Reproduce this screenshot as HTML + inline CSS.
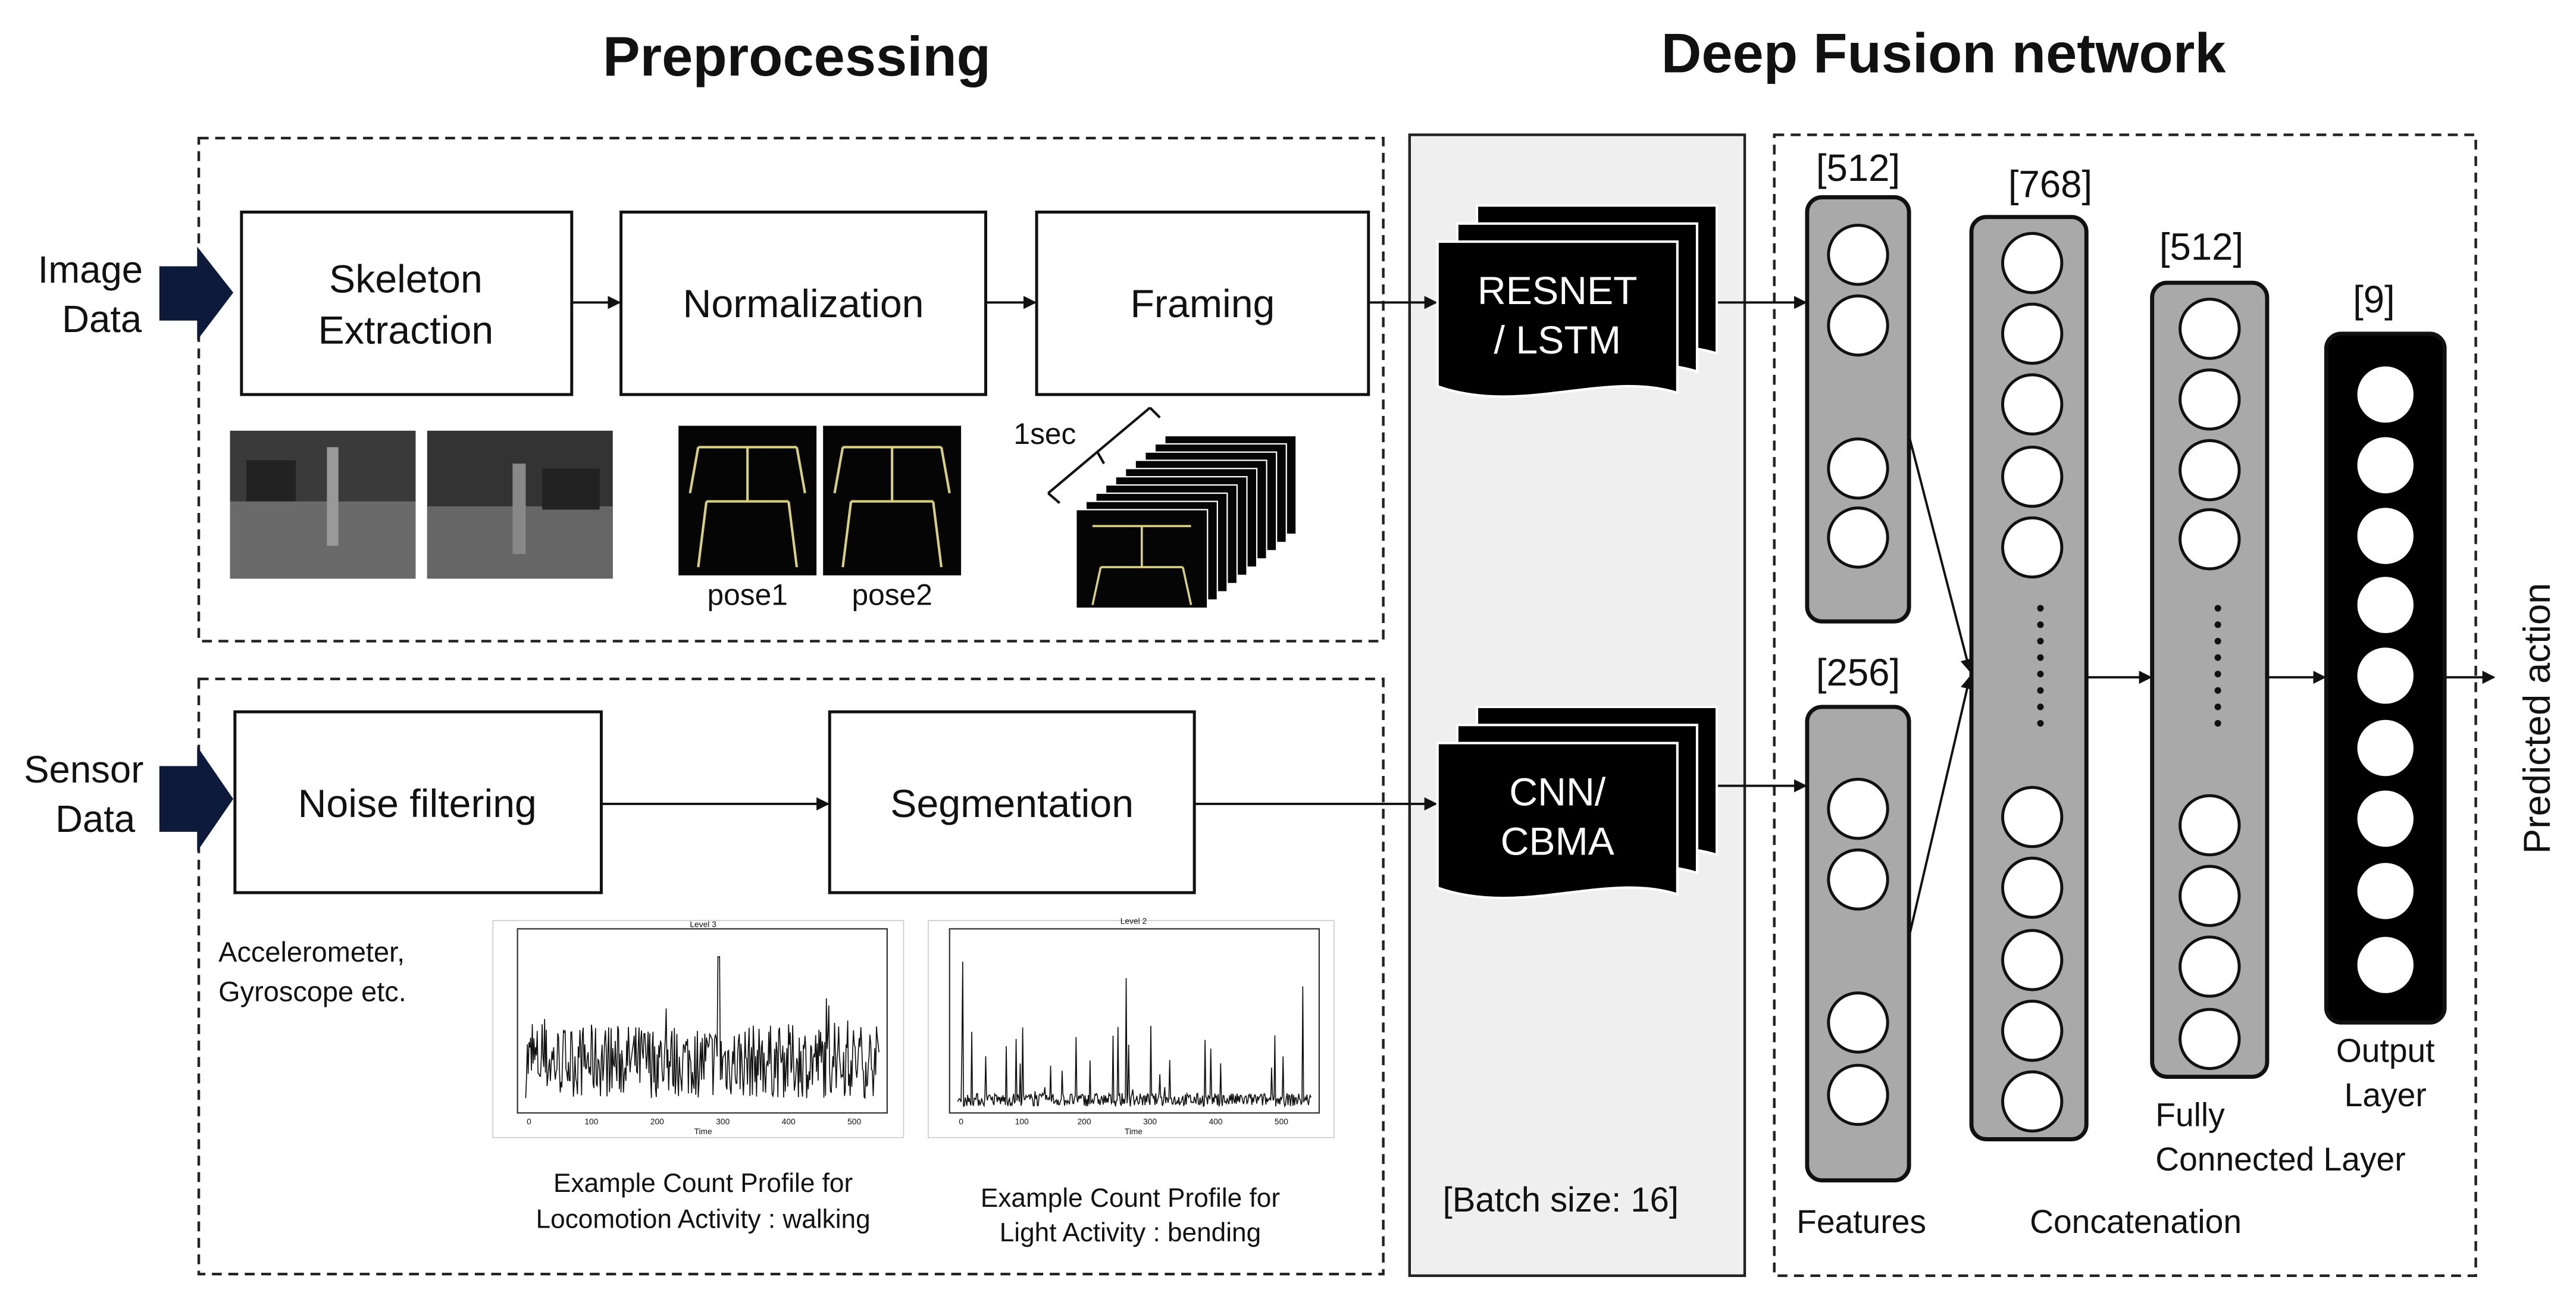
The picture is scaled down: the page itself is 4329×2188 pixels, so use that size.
<!DOCTYPE html>
<html><head><meta charset="utf-8">
<style>
html,body{margin:0;padding:0;background:#fff;}
svg{display:block;}
text{font-family:"Liberation Sans",sans-serif;fill:#111;}
</style></head>
<body>
<svg id="s" width="4329" height="2188" viewBox="0 0 1568 792" preserveAspectRatio="none" xmlns="http://www.w3.org/2000/svg">
<defs>
<marker id="ar" markerWidth="8" markerHeight="8" refX="7" refY="4" orient="auto" markerUnits="userSpaceOnUse">
<path d="M0,0 L8,4 L0,8 z" fill="#111"/></marker>
</defs>
<text x="485" y="46" font-size="34" font-weight="bold" text-anchor="middle">Preprocessing</text>
<text x="1183" y="44" font-size="34" font-weight="bold" text-anchor="middle">Deep Fusion network</text>

<g fill="none" stroke="#222" stroke-width="1.6" stroke-dasharray="6,4">
<rect x="121" y="84" width="721" height="306"/>
<rect x="121" y="413" width="721" height="362"/>
<rect x="1080" y="82" width="427" height="694"/>
</g>
<rect x="858" y="82" width="204" height="694" fill="#efefef" stroke="#222" stroke-width="1.6"/>

<path d="M97,162 L120,162 L120,150 L142,178 L120,207 L120,195 L97,195 z" fill="#0e1a3c"/>
<path d="M97,466 L120,466 L120,454 L142,486 L120,518 L120,506 L97,506 z" fill="#0e1a3c"/>
<text x="55" y="172" font-size="23" text-anchor="middle">Image</text>
<text x="62" y="202" font-size="23" text-anchor="middle">Data</text>
<text x="51" y="476" font-size="23" text-anchor="middle">Sensor</text>
<text x="58" y="506" font-size="23" text-anchor="middle">Data</text>

<g fill="#fff" stroke="#111" stroke-width="1.8">
<rect x="147" y="129" width="201" height="111"/>
<rect x="378" y="129" width="222" height="111"/>
<rect x="631" y="129" width="202" height="111"/>
<rect x="143" y="433" width="223" height="110"/>
<rect x="505" y="433" width="222" height="110"/>
</g>
<text x="247" y="178" font-size="24" text-anchor="middle">Skeleton</text>
<text x="247" y="209" font-size="24" text-anchor="middle">Extraction</text>
<text x="489" y="193" font-size="24" text-anchor="middle">Normalization</text>
<text x="732" y="193" font-size="24" text-anchor="middle">Framing</text>
<text x="254" y="497" font-size="24" text-anchor="middle">Noise filtering</text>
<text x="616" y="497" font-size="24" text-anchor="middle">Segmentation</text>

<g stroke="#111" stroke-width="1.4" fill="none" marker-end="url(#ar)">
<line x1="348" y1="184" x2="377" y2="184"/>
<line x1="600" y1="184" x2="630" y2="184"/>
<line x1="833" y1="184" x2="874" y2="184"/>
<line x1="366" y1="489" x2="504" y2="489"/>
<line x1="727" y1="489" x2="874" y2="489"/>
<line x1="1045" y1="184" x2="1099" y2="184"/>
<line x1="1045" y1="478" x2="1099" y2="478"/>
<line x1="1162" y1="265" x2="1199" y2="408"/>
<line x1="1162" y1="570" x2="1199" y2="412"/>
<line x1="1270" y1="412" x2="1309" y2="412"/>
<line x1="1380" y1="412" x2="1415" y2="412"/>
<line x1="1488" y1="412" x2="1518" y2="412"/>
</g>

<rect x="140" y="262" width="113" height="90" fill="#3a3a3a"/>
<rect x="140" y="305" width="113" height="47" fill="#6a6a6a"/>
<rect x="260" y="262" width="113" height="90" fill="#333"/>
<rect x="260" y="308" width="113" height="44" fill="#666"/>
<rect x="150" y="280" width="30" height="25" fill="#222"/>
<rect x="330" y="285" width="35" height="25" fill="#222"/>
<rect x="199" y="272" width="7" height="60" fill="#999"/>
<rect x="312" y="282" width="8" height="55" fill="#888"/>
<rect x="413" y="259" width="84" height="91" fill="#050505"/>
<rect x="501" y="259" width="84" height="91" fill="#050505"/>
<g stroke="#d8d080" stroke-width="1.5" fill="none">
<path d="M425,272 L485,272 M455,272 L455,305 M430,305 L480,305 M430,305 L425,345 M480,305 L485,345 M425,272 L420,300 M485,272 L490,300"/>
<path d="M513,272 L573,272 M543,272 L543,305 M518,305 L568,305 M518,305 L513,345 M568,305 L573,345 M513,272 L508,300 M573,272 L578,300"/>
</g>
<text x="455" y="368" font-size="18" text-anchor="middle">pose1</text>
<text x="543" y="368" font-size="18" text-anchor="middle">pose2</text>
<g id="stack"></g>
<text x="617" y="270" font-size="18">1sec</text>
<path d="M638,300 L700,248 M638,300 L645,306 M700,248 L706,254 M668,275 L672,282" stroke="#111" fill="none" stroke-width="1.5"/>

<text x="133" y="585" font-size="17">Accelerometer,</text>
<text x="133" y="609" font-size="17">Gyroscope etc.</text>
<rect x="300" y="560" width="250" height="132" fill="#fff" stroke="#ccc" stroke-width="0.6"/>
<rect x="315" y="565" width="225" height="112" fill="none" stroke="#333" stroke-width="0.8"/>
<text x="428" y="564" font-size="5" text-anchor="middle">Level 3</text>
<polyline id="c1" fill="none" stroke="#111" stroke-width="0.6" points=""/>
<rect x="565" y="560" width="247" height="132" fill="none" stroke="#ccc" stroke-width="0.6"/>
<rect x="578" y="565" width="225" height="112" fill="none" stroke="#333" stroke-width="0.8"/>
<text x="690" y="562" font-size="5" text-anchor="middle">Level 2</text>
<polyline id="c2" fill="none" stroke="#111" stroke-width="0.6" points=""/>
<g font-size="5" text-anchor="middle"><text x="322" y="684">0</text><text x="360" y="684">100</text><text x="400" y="684">200</text><text x="440" y="684">300</text><text x="480" y="684">400</text><text x="520" y="684">500</text><text x="428" y="690">Time</text>
<text x="585" y="684">0</text><text x="622" y="684">100</text><text x="660" y="684">200</text><text x="700" y="684">300</text><text x="740" y="684">400</text><text x="780" y="684">500</text><text x="690" y="690">Time</text></g>
<text x="428" y="725" font-size="16" text-anchor="middle">Example Count Profile for</text>
<text x="428" y="747" font-size="16" text-anchor="middle">Locomotion Activity : walking</text>
<text x="688" y="734" font-size="16" text-anchor="middle">Example Count Profile for</text>
<text x="688" y="755" font-size="16" text-anchor="middle">Light Activity : bending</text>

<g id="docs"></g>
<text x="948" y="185" font-size="24" text-anchor="middle" style="fill:#fff">RESNET</text>
<text x="948" y="215" font-size="24" text-anchor="middle" style="fill:#fff">/ LSTM</text>
<text x="948" y="490" font-size="24" text-anchor="middle" style="fill:#fff">CNN/</text>
<text x="948" y="520" font-size="24" text-anchor="middle" style="fill:#fff">CBMA</text>
<text x="950" y="737" font-size="21" text-anchor="middle">[Batch size: 16]</text>

<g stroke="#111" stroke-width="2.5">
<rect x="1100" y="120" width="62" height="258" rx="9" fill="#a9a9a9"/>
<rect x="1100" y="430" width="62" height="288" rx="9" fill="#a9a9a9"/>
<rect x="1200" y="132" width="70" height="561" rx="9" fill="#a9a9a9"/>
<rect x="1310" y="172" width="70" height="483" rx="9" fill="#a9a9a9"/>
<rect x="1416" y="203" width="72" height="419" rx="9" fill="#000"/>
</g>
<g id="circ" stroke="#111" stroke-width="1.8" fill="#fff"></g>
<text x="1131" y="110" font-size="23" text-anchor="middle">[512]</text>
<text x="1131" y="417" font-size="23" text-anchor="middle">[256]</text>
<text x="1248" y="120" font-size="23" text-anchor="middle">[768]</text>
<text x="1340" y="158" font-size="23" text-anchor="middle">[512]</text>
<text x="1445" y="190" font-size="23" text-anchor="middle">[9]</text>
<text x="1133" y="750" font-size="20" text-anchor="middle">Features</text>
<text x="1300" y="750" font-size="20" text-anchor="middle">Concatenation</text>
<text x="1312" y="685" font-size="20">Fully</text>
<text x="1312" y="712" font-size="20">Connected Layer</text>
<text x="1452" y="646" font-size="20" text-anchor="middle">Output</text>
<text x="1452" y="673" font-size="20" text-anchor="middle">Layer</text>
<text transform="translate(1552,437) rotate(-90)" font-size="23" text-anchor="middle">Predicted action</text>
</svg>
<script>
var NS="http://www.w3.org/2000/svg";
function el(p,t,a){var e=document.createElementNS(NS,t);for(var k in a)e.setAttribute(k,a[k]);p.appendChild(e);return e;}
var c=document.getElementById('circ');
function col(cx,ys,fill,stroke){ys.forEach(function(y){el(c,'circle',{cx:cx,cy:y,r:18,fill:fill||'#fff',stroke:stroke||'#111'});});}
col(1131,[155,198,285,327]);col(1131,[492,535,622,666]);
col(1237,[160,203,246,290,333,497,540,584,627,670]);
col(1345,[200,243,286,328,502,545,588,632]);
col(1452,[240,283,326,368,411,455,498,542,587],'#fff','#000');
[[1242,370,445],[1350,370,445]].forEach(function(d){for(var y=d[1];y<=d[2];y+=10)el(c,'circle',{cx:d[0],cy:y,r:2,fill:'#111',stroke:'none'});});
var g=document.getElementById('docs');
function doc(x,y,w,h){var d="M"+x+","+y+" L"+(x+w)+","+y+" L"+(x+w)+","+(y+h)+" C"+(x+w*0.7)+","+(y+h-14)+" "+(x+w*0.35)+","+(y+h+14)+" "+x+","+(y+h-4)+" z";el(g,'path',{d:d,fill:'#000',stroke:'#fff','stroke-width':1.5});}
[[125,0],[430,0]].forEach(function(b){var y=b[0];doc(899,y,146,90);doc(887,y+11,146,90);doc(875,y+22,146,92);});
var st=document.getElementById('stack');
for(var i=9;i>=0;i--){var x=655+i*6,y=310-i*5;el(st,'rect',{x:x,y:y,width:80,height:60,fill:'#050505',stroke:'#fff','stroke-width':0.8});}
el(st,'path',{d:"M665,320 L725,320 M695,320 L695,345 M670,345 L720,345 M670,345 L665,368 M720,345 L725,368",stroke:'#d8d080','stroke-width':1.3,fill:'none'});
var seed=7;function r(){seed=(seed*16807)%2147483647;return seed/2147483647;}
var p=[];for(var i=0;i<=430;i++){var x=320+i*0.5;var v=668-r()*45-(r()<0.06?r()*20:0);if(Math.abs(i-235)<2)v=582;p.push(x+","+v.toFixed(1));}
document.getElementById('c1').setAttribute('points',p.join(' '));
p=[];for(var i=0;i<=430;i++){var x=583+i*0.5;var v=673-r()*8;var q=r();if(q<0.07)v=673-r()*50;if(i==6)v=585;if(i==205)v=595;if(i==420)v=600;p.push(x+","+v.toFixed(1));}
document.getElementById('c2').setAttribute('points',p.join(' '));
</script>
</body></html>
